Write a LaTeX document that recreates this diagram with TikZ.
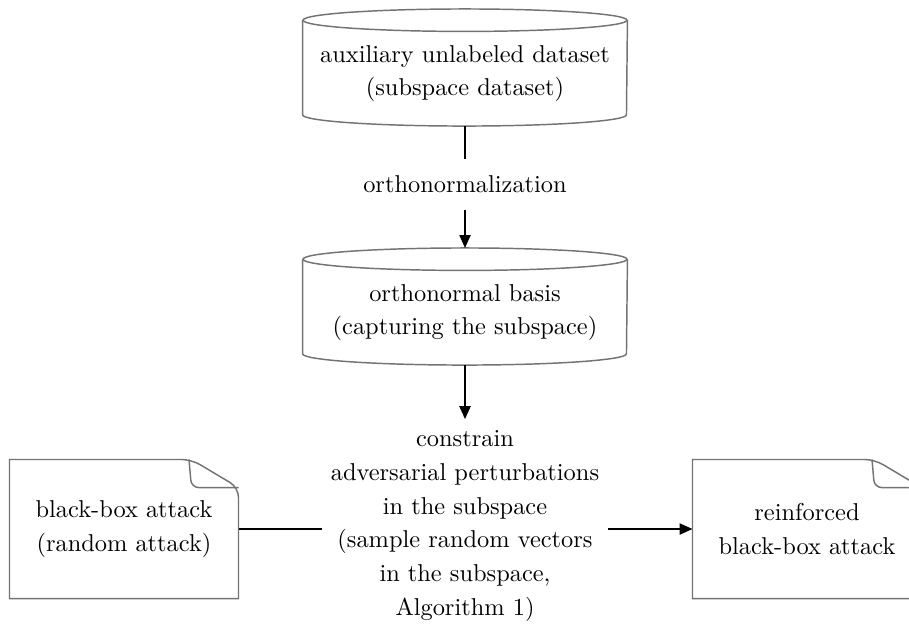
\documentclass[tikz,border=0pt]{standalone}
\usetikzlibrary{arrows.meta}
\newcommand*{\pxUnit}{0.41pt}
\newcommand*{\cylRx}{66.4pt}
\newcommand*{\cylRy}{4.6pt}
\newcommand*{\foldW}{19.3pt}
\newcommand*{\foldH}{11.5pt}
\newcommand*{\cylOutline}[1]{% node name; top lid drawn as a full ellipse, bottom as a half arc
    \draw [outline] ([yshift=-\cylRy]#1.north west) -- ([yshift=\cylRy]#1.south west)
        arc [start angle=180, end angle=360, x radius=\cylRx, y radius=\cylRy] -- ([yshift=-\cylRy]#1.north east);
    \draw [outline] ([yshift=-\cylRy]#1.north) ellipse [x radius=\cylRx, y radius=\cylRy];
}
\newcommand*{\docOutline}[1]{% node name; sheet with a folded top right corner
    \draw [outline] (#1.south west) -- (#1.north west) [rounded corners=4pt] -- ([xshift=-\foldW]#1.north east)
        -- ([yshift=-\foldH]#1.north east) [sharp corners] -- (#1.south east) -- cycle;
    \draw [outline, rounded corners=3pt] ([xshift=-\foldW-1pt]#1.north east) -- ([xshift=-\foldW,yshift=-\foldH]#1.north east)
        -- ([yshift=-\foldH]#1.north east);
}

\begin{document}
\begin{tikzpicture}[x=\pxUnit, y=-\pxUnit,
    every node/.style={font=\fontsize{10}{13.8}\selectfont, align=center},
    outline/.style={draw=black!55, line width=0.6pt},
    cylbox/.style={minimum width=132.8pt, minimum height=47.6pt, inner sep=0pt},
    docbox/.style={minimum width=93.5pt, minimum height=56.6pt, inner sep=0pt},
    plain/.style={draw, line width=0.6pt},
    flow/.style={plain, -{Triangle[length=5.3pt, width=4.6pt]}}]
\useasboundingbox (0,0) rectangle (909,624);
\clip (0,0) rectangle (909,624);
% stores
\node [cylbox] (subdata) at (465,67.5) {\\[-2pt]auxiliary unlabeled dataset\\(subspace dataset)};
\node [inner xsep=3.3pt, inner ysep=6.6pt] (ortho) at (465,184.5) {orthonormalization};
\node [cylbox] (basis) at (465,306.5) {\\[-2pt]orthonormal basis\\(capturing the subspace)};
\cylOutline{subdata}
\cylOutline{basis}
% attack chain
\node [inner xsep=3.6pt, inner ysep=4.6pt] (constrain) at (465,526) {constrain\\adversarial perturbations\\in the subspace\\(sample random vectors\\in the subspace,\\Algorithm 1)};
\node [docbox] (attack) at (124,529) {black-box attack\\(random attack)};
\node [docbox] (reinforced) at (807,529) {reinforced\\black-box attack};
\docOutline{attack}
\docOutline{reinforced}
% connectors
\draw [plain] (subdata) -- (ortho);
\draw [flow] (ortho) -- (basis);
\draw [flow] (basis) -- (constrain);
\draw [plain] (attack.east) -- (attack.east -| constrain.west);
\draw [flow] (constrain.east |- reinforced.west) -- (reinforced.west);
\end{tikzpicture}
\end{document}
